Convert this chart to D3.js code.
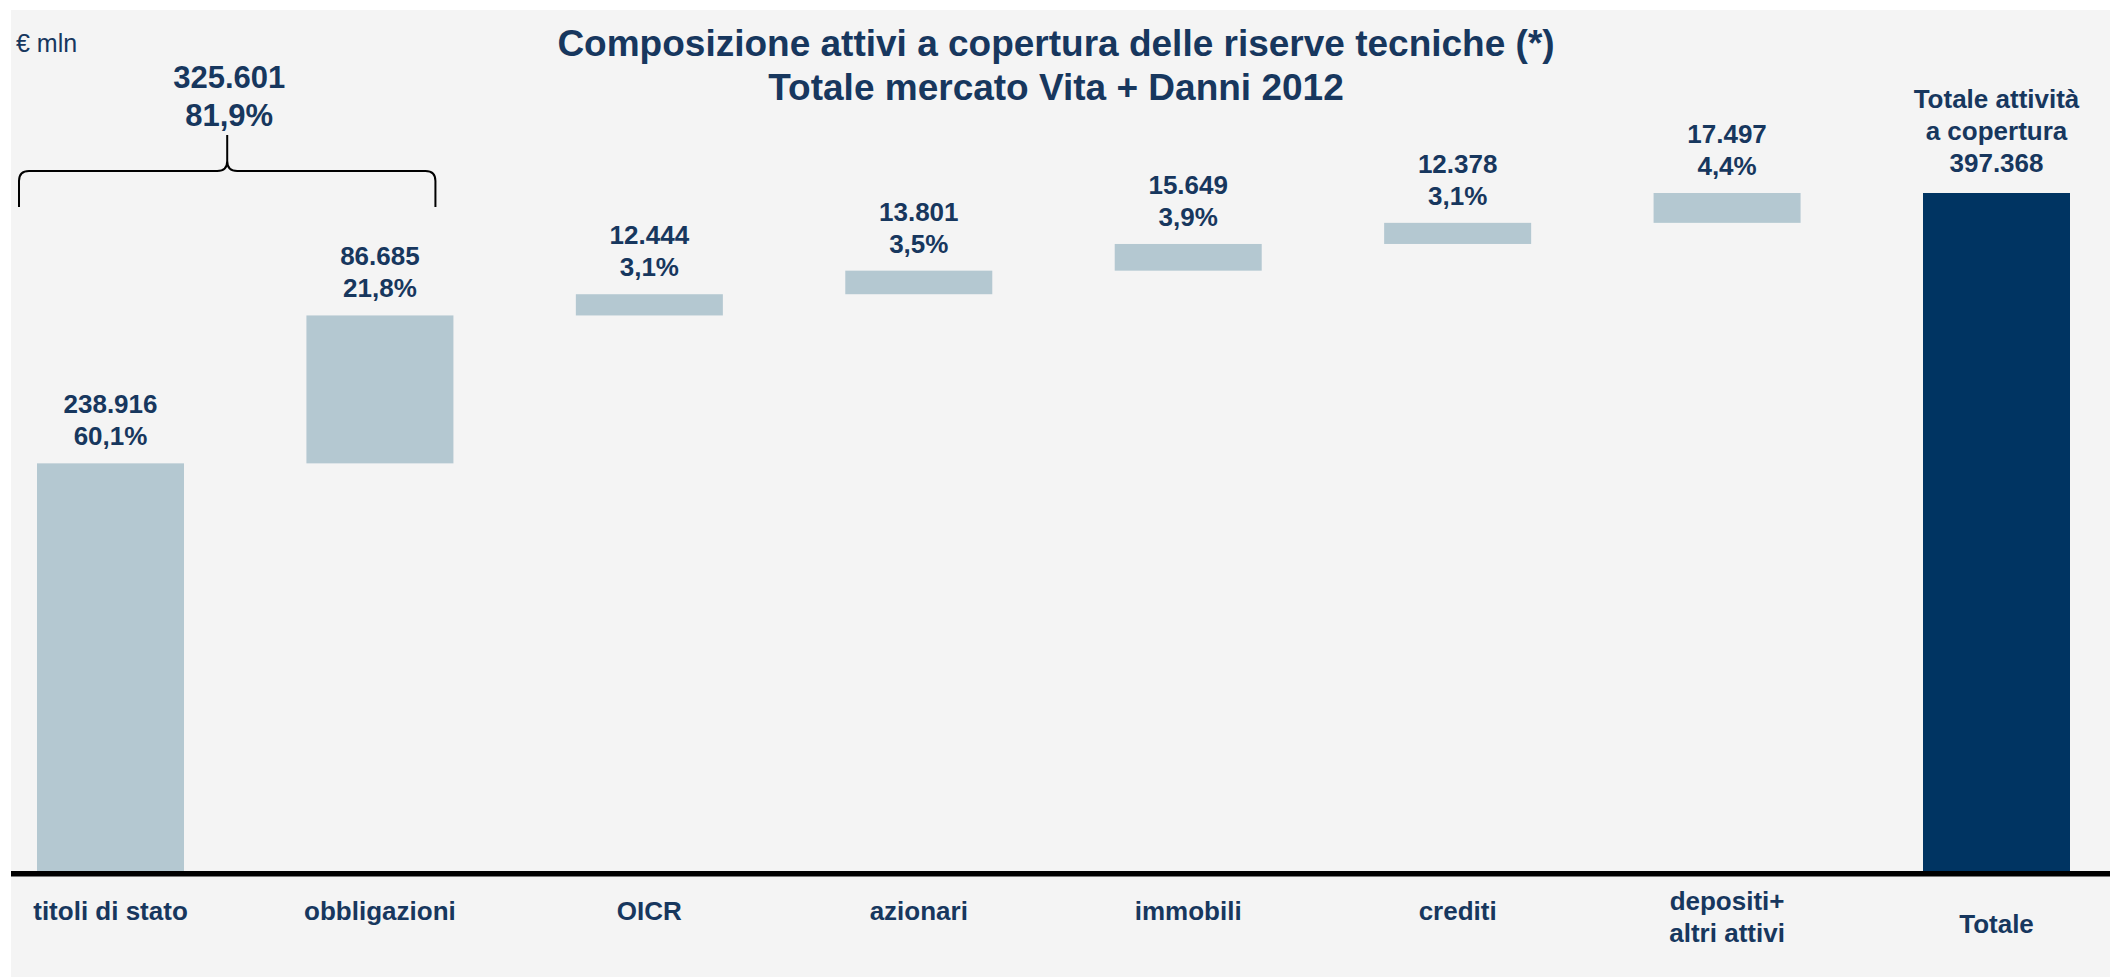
<!DOCTYPE html>
<html lang="it">
<head>
<meta charset="UTF-8">
<title>Composizione attivi</title>
<style>
  body {margin: 0; background: #fff;}
  text {font-family: "Liberation Sans", Arial, sans-serif; fill: #17375e;}
  .lbl {font-weight: bold; font-size: 26px; text-anchor: middle;}
  .title {font-weight: bold; font-size: 37px; text-anchor: middle;}
</style>
</head>
<body>
<div id="chart"></div>
<script src="https://d3js.org/d3.v7.min.js"></script>
<script>

// data
var categories = ["titoli di stato", "obbligazioni", "OICR", "azionari", "immobili", "crediti", "depositi+\naltri attivi", "Totale"];
var values = [238916, 86685, 12444, 13801, 15649, 12378, 17497];
var shares = ["60,1%", "21,8%", "3,1%", "3,5%", "3,9%", "3,1%", "4,4%"];
var total = 397368;
var groupValue = 325601, groupShare = "81,9%";
var totalLabel = ["Totale attività", "a copertura"];

var width = 2110, height = 977;
var it = d3.formatLocale({decimal: ",", thousands: ".", grouping: [3], currency: ["", "€"]});
var fmt = it.format(",d");

var svg = d3.select("#chart").append("svg")
    .attr("width", width)
    .attr("height", height);

svg.append("rect")
    .attr("x", 11).attr("y", 10)
    .attr("width", width - 11).attr("height", height - 10)
    .attr("fill", "#f4f4f4");

var x = d3.scaleBand()
    .domain(categories)
    .range([37, 2070])
    .paddingInner(0.4544)
    .paddingOuter(0);

var y = d3.scaleLinear()
    .domain([0, total])
    .range([871, 193]);

// waterfall steps
var rows = [];
var run = 0;
values.forEach(function(v, i) {
    rows.push({cat: categories[i], y0: run, y1: run + v, v: v, share: shares[i]});
    run += v;
});

svg.append("g").selectAll("rect")
    .data(rows)
    .enter().append("rect")
    .attr("x", function(d) { return x(d.cat); })
    .attr("y", function(d) { return y(d.y1); })
    .attr("width", x.bandwidth())
    .attr("height", function(d) { return y(d.y0) - y(d.y1); })
    .attr("fill", "#b4c8d1");

svg.append("rect")
    .attr("x", x("Totale"))
    .attr("y", y(total))
    .attr("width", x.bandwidth())
    .attr("height", y(0) - y(total))
    .attr("fill", "#003462");

// value labels
var lab = svg.append("g").selectAll("text")
    .data(rows)
    .enter().append("text")
    .attr("class", "lbl")
    .attr("x", function(d) { return x(d.cat) + x.bandwidth() / 2; })
    .attr("y", function(d) { return y(d.y1) - 50; });
lab.append("tspan").text(function(d) { return fmt(d.v); });
lab.append("tspan")
    .attr("x", function(d) { return x(d.cat) + x.bandwidth() / 2; })
    .attr("dy", 32)
    .text(function(d) { return d.share; });

var tl = svg.append("text")
    .attr("class", "lbl")
    .attr("x", x("Totale") + x.bandwidth() / 2)
    .attr("y", y(total) - 85);
totalLabel.concat([fmt(total)]).forEach(function(s, i) {
    tl.append("tspan")
        .attr("x", x("Totale") + x.bandwidth() / 2)
        .attr("dy", i ? 32 : 0)
        .text(s);
});

// brace over the first two bars
var bl = x(categories[0]) - 18,
    br = x(categories[1]) + x.bandwidth() - 18,
    bm = (bl + br) / 2,
    by = 171, r = 10;
svg.append("path")
    .attr("d", "M" + bl + ",207 L" + bl + "," + (by + r) + " Q" + bl + "," + by + " " + (bl + r) + "," + by +
        " L" + (bm - r) + "," + by + " Q" + bm + "," + by + " " + bm + "," + (by - r) + " L" + bm + ",135" +
        " M" + bm + "," + (by - r) + " Q" + bm + "," + by + " " + (bm + r) + "," + by +
        " L" + (br - r) + "," + by + " Q" + br + "," + by + " " + br + "," + (by + r) + " L" + br + ",207")
    .attr("fill", "none")
    .attr("stroke", "#000")
    .attr("stroke-width", 2);

var gl = svg.append("text")
    .attr("class", "lbl")
    .style("font-size", "31px")
    .attr("x", bm + 2)
    .attr("y", 88);
gl.append("tspan").text(fmt(groupValue));
gl.append("tspan").attr("x", bm + 2).attr("dy", 38).text(groupShare);

// category axis
var axis = svg.append("g")
    .attr("transform", "translate(0," + y(0) + ")")
    .call(d3.axisBottom(x).tickSize(0).tickPadding(0));
axis.select(".domain").remove();
axis.selectAll(".tick text").each(function(d) {
    var t = d3.select(this);
    var parts = d.split("\n");
    t.text(null)
        .attr("class", "lbl")
        .attr("fill", null)
        .attr("dy", null)
        .style("font-family", null)
        .attr("y", parts.length > 1 ? 39 : (d === "Totale" ? 62 : 49));
    parts.forEach(function(p, i) {
        t.append("tspan").attr("x", 0).attr("dy", i ? 32 : 0).text(p);
    });
});
axis.attr("font-size", null).attr("font-family", null);

svg.append("line")
    .attr("x1", 11).attr("x2", width)
    .attr("y1", y(0) + 2.8).attr("y2", y(0) + 2.8)
    .attr("stroke", "#000")
    .attr("stroke-width", 5.5);

// titles
svg.append("text").attr("class", "title").attr("x", 1056).attr("y", 56)
    .text("Composizione attivi a copertura delle riserve tecniche (*)");
svg.append("text").attr("class", "title").attr("x", 1056).attr("y", 100)
    .text("Totale mercato Vita + Danni 2012");
svg.append("text").attr("x", 16).attr("y", 52).style("font-size", "25px")
    .text("€ mln");

</script>
</body>
</html>
